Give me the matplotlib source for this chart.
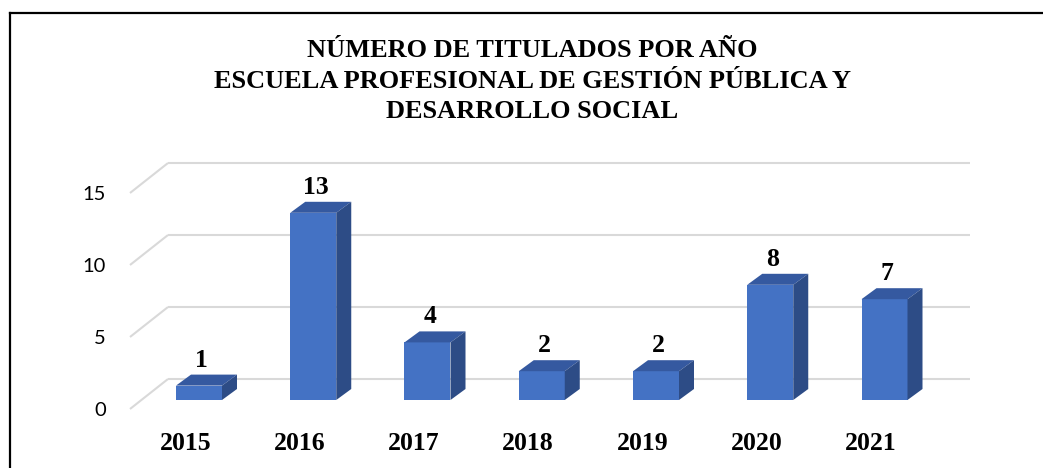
import matplotlib
matplotlib.use("Agg")
import matplotlib.pyplot as plt
from matplotlib.patches import Polygon

# ---- data ----
years = ["2015", "2016", "2017", "2018", "2019", "2020", "2021"]
values = [1, 13, 4, 2, 2, 8, 7]
yticks = [0, 5, 10, 15]
title_lines = ["NÚMERO DE TITULADOS POR AÑO",
               "ESCUELA PROFESIONAL DE GESTIÓN PÚBLICA Y",
               "DESARROLLO SOCIAL"]

# ---- style ----
W, H, DPI = 1043, 468, 100
PX_X = 114.25          # px per category
PX_Y = 14.4            # px per value unit
X0_PX, Y0_PX = 199, 400  # pixel of first bar center / bar base
FRONT = "#4472C4"
TOP = "#3559A0"
SIDE = "#2D4C86"
GRID = "#D9D9D9"
SERIF = "Liberation Serif"
SANS = "Lato"

bar_w = 46 / PX_X
ddx, ddy = 15 / PX_X, 11 / PX_Y                 # bar depth offset
fl_front = (-69 / PX_X, -9 / PX_Y)              # floor front offset (rel. to bar base)
fl_back = (-31 / PX_X, 21 / PX_Y)               # back wall offset
wall_end = (970 - X0_PX) / PX_X

fig = plt.figure(figsize=(W / DPI, H / DPI), dpi=DPI)
ax = fig.add_axes([0, 0, 1, 1])
ax.set_xlim((0 - X0_PX) / PX_X, (W - X0_PX) / PX_X)
ax.set_ylim((Y0_PX - H) / PX_Y, Y0_PX / PX_Y)
ax.axis("off")

# gridlines (side wall diagonal + back wall)
for v in yticks:
    ax.plot([fl_front[0], fl_back[0]], [v + fl_front[1], v + fl_back[1]],
            color=GRID, lw=1.5, zorder=1, solid_capstyle="butt")
    ax.plot([fl_back[0], wall_end], [v + fl_back[1], v + fl_back[1]],
            color=GRID, lw=1.5, zorder=1, solid_capstyle="butt")
    ax.text(fl_front[0] - 24 / PX_X, v + fl_front[1] - 0.12, str(v),
            ha="right", va="center", fontsize=14.5, family=SANS, color="#000000")

# bars
xs = list(range(len(values)))
ax.bar(xs, values, width=bar_w, color=FRONT, zorder=3, linewidth=0)
for x, v in zip(xs, values):
    l, r = x - bar_w / 2, x + bar_w / 2
    top = Polygon([(l, v), (r, v), (r + ddx, v + ddy), (l + ddx, v + ddy)],
                  closed=True, facecolor=TOP, edgecolor="none", zorder=3)
    side = Polygon([(r, 0), (r + ddx, ddy), (r + ddx, v + ddy), (r, v)],
                   closed=True, facecolor=SIDE, edgecolor="none", zorder=3)
    ax.add_patch(top)
    ax.add_patch(side)
    ax.text(x + 0.02, v + ddy + 8 / PX_Y, str(v), ha="center", va="baseline",
            fontsize=18.5, fontweight="bold", family=SERIF, color="#000000")
    ax.text(x - 0.12, -50 / PX_Y, years[x], ha="center", va="baseline",
            fontsize=18.5, fontweight="bold", family=SERIF, color="#000000")

# title
for i, line in enumerate(title_lines):
    fig.text(532 / W, 1 - (57 + 30.5 * i) / H, line, ha="center", va="baseline",
             fontsize=19, fontweight="bold", family=SERIF, color="#000000")

# border (top and left)
fig.add_artist(plt.Line2D([9.5 / W, 1.0], [1 - 12.5 / H, 1 - 12.5 / H],
                          color="black", lw=1.6, transform=fig.transFigure))
fig.add_artist(plt.Line2D([9.5 / W, 9.5 / W], [0.0, 1 - 12.5 / H],
                          color="black", lw=1.6, transform=fig.transFigure))

fig.savefig("out.png", dpi=DPI, facecolor="white")
